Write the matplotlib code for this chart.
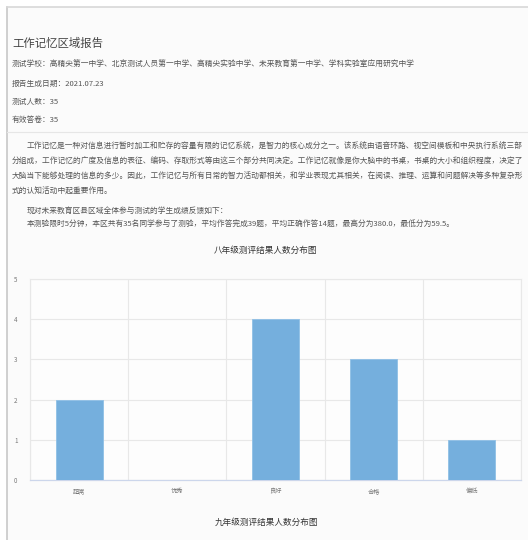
import matplotlib.pyplot as plt
from matplotlib.patches import Rectangle
from matplotlib.lines import Line2D

plt.rcParams['font.family'] = ['Noto Sans CJK SC', 'DejaVu Sans']

W, H = 528, 540

report_title = "工作记忆区域报告"
info_lines = [
    "测试学校：高精尖第一中学、北京测试人员第一中学、高精尖实验中学、未来教育第一中学、学科实验室应用研究中学",
    "报告生成日期：2021.07.23",
    "测试人数：35",
    "有效答卷：35",
]
intro_lines = [
    "工作记忆是一种对信息进行暂时加工和贮存的容量有限的记忆系统，是智力的核心成分之一。该系统由语音环路、视空间模板和中央执行系统三部",
    "分组成，工作记忆的广度及信息的表征、编码、存取形式等由这三个部分共同决定。工作记忆就像是你大脑中的书桌，书桌的大小和组织程度，决定了",
    "大脑当下能够处理的信息的多少。因此，工作记忆与所有日常的智力活动都相关，和学业表现尤其相关，在阅读、推理、运算和问题解决等多种复杂形",
    "式的认知活动中起重要作用。",
]
summary_lines = [
    "现对未来教育区县区域全体参与测试的学生成绩反馈如下：",
    "本测验限时5分钟，本区共有35名同学参与了测验，平均作答完成39题，平均正确作答14题，最高分为380.0，最低分为59.5。",
]
chart_titles = ["八年级测评结果人数分布图", "九年级测评结果人数分布图"]
levels = ["超常", "优秀", "良好", "合格", "偏低"]
grade8_counts = [2, 0, 4, 3, 1]
y_ticks = [0, 1, 2, 3, 4, 5]


def fx(x):
    return x / W


def fy(y):
    return 1 - y / H


fig = plt.figure(figsize=(W / 100, H / 100), dpi=100)
fig.patch.set_facecolor('white')

# page panel with border on the left and top
fig.add_artist(Rectangle((fx(7), 0), 1 - fx(7), fy(7), transform=fig.transFigure,
                         facecolor='#fbfbfb', edgecolor='none', zorder=0))
fig.add_artist(Line2D([fx(6.5), fx(6.5)], [0, fy(7)], transform=fig.transFigure,
                      color='#c8c8c8', lw=1.2))
fig.add_artist(Line2D([fx(6.5), 1], [fy(7), fy(7)], transform=fig.transFigure,
                      color='#d8d8d8', lw=1.2))
fig.add_artist(Line2D([fx(7), 1], [fy(132), fy(132)], transform=fig.transFigure,
                      color='#e6e6e6', lw=0.8))

text_color = '#555555'
body_size = 5.55
fig.text(fx(12), fy(43), report_title, fontsize=8.2, color='#444444', va='center')
for y, line in zip([65, 84, 102, 120], info_lines):
    fig.text(fx(12), fy(y), line, fontsize=body_size, color=text_color, va='center')

for i, line in enumerate(intro_lines):
    x = 27 if i == 0 else 12
    fig.text(fx(x), fy(147 + i * 15), line, fontsize=body_size, color=text_color, va='center')
for i, line in enumerate(summary_lines):
    fig.text(fx(27), fy(211 + i * 13), line, fontsize=body_size, color=text_color, va='center')

fig.text(fx(266), fy(250), chart_titles[0], fontsize=6.2, color='#333333',
         ha='center', va='center')
fig.text(fx(266), fy(522), chart_titles[1], fontsize=6.2, color='#333333',
         ha='center', va='center')

# grade 8 bar chart
ax = fig.add_axes([fx(30), fy(480), (521 - 30) / W, (480 - 279) / H])
ax.set_facecolor('#fdfdfd')
xs = range(len(levels))
ax.bar(xs, grade8_counts, width=0.48, color='#75afdd', edgecolor='#8fc0e6',
       linewidth=0.6, zorder=3)
ax.set_xlim(-0.5, len(levels) - 0.5)
ax.set_ylim(0, 5)
ax.set_yticks(y_ticks)
ax.set_xticks(list(xs))
ax.set_xticklabels(levels)
ax.set_xticks([i - 0.5 for i in range(len(levels) + 1)], minor=True)
ax.grid(axis='y', color='#e8e8e8', lw=0.8, zorder=0)
ax.grid(axis='x', which='minor', color='#e8e8e8', lw=0.8, zorder=0)
ax.tick_params(axis='both', which='both', length=0, labelsize=4.5, colors='#777777')
ax.tick_params(axis='y', pad=9)
ax.tick_params(axis='x', pad=5)
for side in ['top', 'right', 'left']:
    ax.spines[side].set_color('#e8e8e8')
    ax.spines[side].set_linewidth(0.8)
ax.spines['bottom'].set_color('#ccd6eb')
ax.spines['bottom'].set_linewidth(0.9)

fig.savefig('out.png', dpi=100)
